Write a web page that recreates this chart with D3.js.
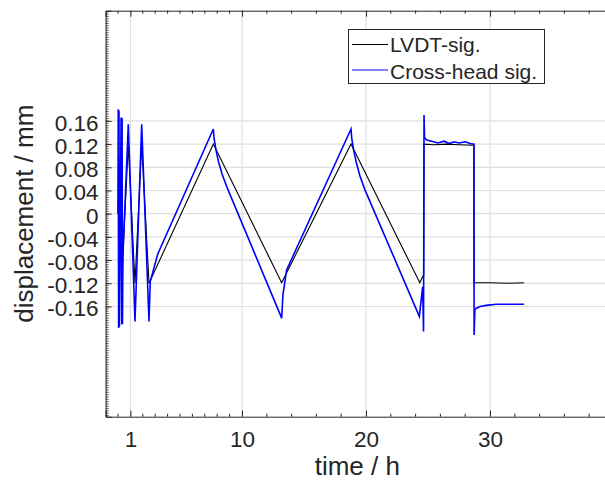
<!DOCTYPE html>
<html>
<head>
<meta charset="utf-8">
<script src="https://cdn.jsdelivr.net/npm/d3@7"></script>
<style>
    body { margin: 0; background: #fff; }
    text { font-family: "Liberation Sans", Arial, sans-serif; fill: #262626; }
    .grid line { stroke: #dfdfdf; stroke-width: 1.2; }
    .axis path, .axis line { stroke: #262626; }
</style>
</head>
<body>
<div id="chart-area"></div>
<script>
// displacement over time, LVDT vs cross-head

// LVDT signal (black)
let lvdtTime = [0.00, 0.05, 0.11, 0.25, 0.33, 0.40, 0.83, 1.37, 1.91, 2.50,
    7.69, 13.20, 18.79, 24.34, 24.62, 24.66, 24.68, 25.5, 26.5, 27.5, 28.71, 28.72, 30.0, 31.5, 32.75];
let lvdtDisp = [0.000, 0.100, -0.110, 0.110, -0.110, -0.070, 0.120, -0.120, 0.120, -0.120,
    0.120, -0.119, 0.120, -0.119, -0.106, -0.106, 0.120, 0.119, 0.120, 0.119, 0.118, -0.119, -0.119, -0.120, -0.119];

// Cross-head signal (blue)
let crossTime = [0.00, 0.02, 0.05, 0.08, 0.11, 0.25, 0.30, 0.33, 0.36, 0.40, 0.83, 1.37, 1.91, 2.50,
    2.60, 3.20, 7.69, 7.75, 7.90, 8.10, 8.40, 8.80, 13.20, 13.30, 13.60, 18.79, 18.85, 19.00, 19.20, 19.50, 19.90, 24.30,
    24.57, 24.64, 24.68, 24.72, 24.90, 25.30, 25.80, 26.30, 26.70, 27.10, 27.50, 28.00, 28.40, 28.70,
    28.72, 28.78, 28.90, 29.20, 29.70, 30.50, 32.75];
let crossDisp = [0.000, 0.180, -0.197, 0.178, -0.195, 0.166, -0.191, 0.165, -0.190, -0.070, 0.154, -0.186, 0.154, -0.186,
    -0.117, -0.070, 0.146, 0.130, 0.110, 0.090, 0.068, 0.045, -0.180, -0.140, -0.097, 0.146, 0.130, 0.110, 0.090, 0.066, 0.042, -0.177,
    -0.126, -0.203, 0.170, 0.131, 0.127, 0.125, 0.122, 0.125, 0.121, 0.124, 0.122, 0.124, 0.121, 0.120,
    -0.209, -0.166, -0.163, -0.160, -0.158, -0.156, -0.156];

let xTickVals = [1, 10, 20, 30];
let yTickVals = [-0.16, -0.12, -0.08, -0.04, 0, 0.04, 0.08, 0.12, 0.16];
let yTickLabels = ["-0.16", "-0.12", "-0.08", "-0.04", "0", "0.04", "0.08", "0.12", "0.16"];
let seriesNames = ["LVDT-sig.", "Cross-head sig."];
let seriesColors = ["#000000", "#0000ff"];

let margin = {top: 10.7, right: 0, bottom: 65.3, left: 105.6};
let width = 508.4,
    height = 482 - margin.top - margin.bottom;

let svg = d3.select("#chart-area").append("svg")
    .attr("width", 605)
    .attr("height", 482)
    .append("g")
    .attr("transform", "translate(" + margin.left + "," + margin.top + ")");

// Scales
let x = d3.scaleLinear().domain([-1, 40]).range([0, width]);
let y = d3.scaleLinear().domain([-0.35, 0.35]).range([height, 0]);

// minor ticks (matlab puts 1h steps below 10, 2h steps above)
let xMinor = d3.range(0, 10).concat(d3.range(12, 40, 2)).filter(d => xTickVals.indexOf(d) < 0);
let yMinor = d3.range(-0.348, 0.35, 0.004);

// grid
svg.append("g").attr("class", "grid")
    .selectAll("line").data(xTickVals).enter().append("line")
    .attr("x1", d => x(d)).attr("x2", d => x(d))
    .attr("y1", 0).attr("y2", height);

svg.append("g").attr("class", "grid")
    .selectAll("line").data(yTickVals).enter().append("line")
    .attr("x1", 0).attr("x2", width)
    .attr("y1", d => y(d)).attr("y2", d => y(d));

// lines
let line = d3.line()
    .x(d => x(d[0]))
    .y(d => y(d[1]));

svg.append("path")
    .datum(d3.zip(lvdtTime, lvdtDisp))
    .attr("fill", "none")
    .attr("stroke", seriesColors[0])
    .attr("stroke-width", 1.1)
    .attr("d", line);

svg.append("path")
    .datum(d3.zip(crossTime, crossDisp))
    .attr("fill", "none")
    .attr("stroke", seriesColors[1])
    .attr("stroke-width", 1.6)
    .attr("d", line);

// axes
let xAxis = d3.axisBottom(x).tickValues(xTickVals).tickFormat(d3.format("d"))
    .tickSize(-6).tickPadding(14);
let yAxis = d3.axisLeft(y).tickValues(yTickVals).tickFormat((d, i) => yTickLabels[i])
    .tickSize(-6).tickPadding(7);

svg.append("g")
    .attr("class", "axis x-axis")
    .attr("transform", "translate(0," + height + ")")
    .call(xAxis)
    .call(g => g.selectAll("text").attr("font-size", 22.5));

svg.append("g")
    .attr("class", "axis y-axis")
    .call(yAxis)
    .call(g => g.selectAll("text").attr("font-size", 22.5).attr("dy", "0.42em"));

// top axis, ticks only
svg.append("g")
    .attr("class", "axis")
    .call(d3.axisTop(x).tickValues(xTickVals).tickSize(-6).tickFormat(""));

// minor ticks
let minor = svg.append("g").attr("stroke", "#262626");
minor.selectAll(".xb").data(xMinor).enter().append("line")
    .attr("x1", d => x(d)).attr("x2", d => x(d))
    .attr("y1", height).attr("y2", height - 3);
minor.selectAll(".xt").data(xMinor).enter().append("line")
    .attr("x1", d => x(d)).attr("x2", d => x(d))
    .attr("y1", 0).attr("y2", 3);
minor.selectAll(".yl").data(yMinor).enter().append("line")
    .attr("x1", 0).attr("x2", 3)
    .attr("y1", d => y(d)).attr("y2", d => y(d))
    .attr("stroke-width", 0.8);

svg.selectAll(".axis text").attr("fill", "#262626");

// axis labels
svg.append("text")
    .attr("x", x(19.3))
    .attr("y", height + 58)
    .attr("text-anchor", "middle")
    .attr("font-size", 26)
    .text("time / h");

svg.append("text")
    .attr("transform", "translate(" + (33 - margin.left) + "," + y(0) + ") rotate(-90)")
    .attr("text-anchor", "middle")
    .attr("font-size", 26)
    .text("displacement / mm");

// legend (drawn in page coords so the sample lines land where matlab put them)
let legend = d3.select("svg").append("g");

legend.append("rect")
    .attr("x", 348.5).attr("y", 29.5)
    .attr("width", 196)
    .attr("height", 54)
    .attr("fill", "#fff")
    .attr("stroke", "#262626")
    .attr("stroke-width", 1);

let legendLineY = [44.5, 70];
seriesNames.forEach(function (name, i) {
    legend.append("line")
        .attr("x1", 352).attr("x2", 388)
        .attr("y1", legendLineY[i]).attr("y2", legendLineY[i])
        .attr("stroke", seriesColors[i])
        .attr("stroke-width", 1);
    legend.append("text")
        .attr("x", 390)
        .attr("y", 52 + i * 26.5)
        .attr("font-size", 21)
        .text(name);
});
</script>
</body>
</html>
